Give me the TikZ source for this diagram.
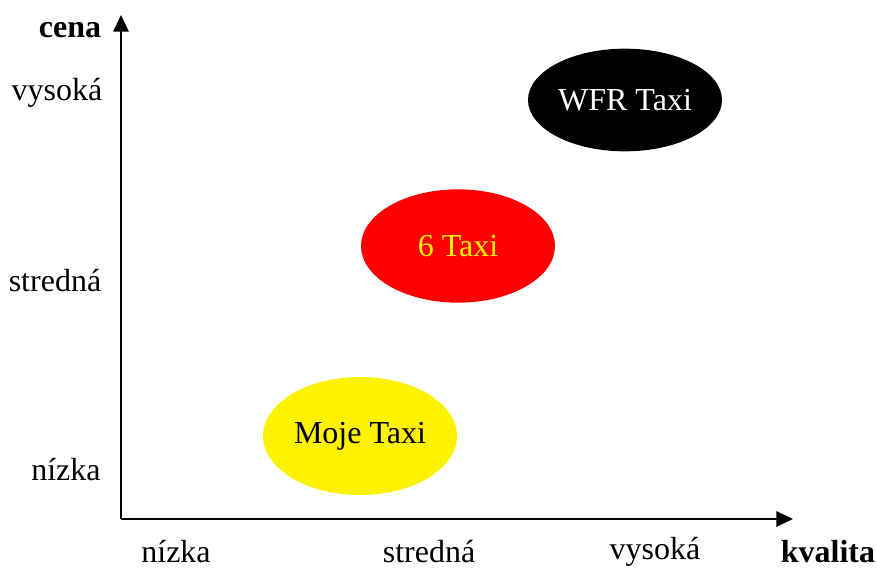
\documentclass[tikz,border=0pt]{standalone}
\usepackage{fontspec}
\setmainfont{Liberation Serif}
\usetikzlibrary{arrows.meta, shapes.geometric}

\begin{document}
\begin{tikzpicture}[x=0.75pt, y=-0.75pt, >={Triangle[length=12.5pt, width=11.5pt]},
    lbl/.style={font=\fontsize{24}{28}\selectfont, inner sep=0pt},
    firm/.style={ellipse, inner sep=0pt, outer sep=0pt, minimum width=145.5pt, font=\fontsize{24}{28}\selectfont}]
    \useasboundingbox (0,0) rectangle (877,570);
    \coordinate (O) at (121,519);
    \coordinate (Y) at (121,15); % top of price axis
    \coordinate (X) at (793,519); % end of quality axis
    
    \draw[->, line width=1.5pt] (O)--(Y);
    \draw[->, line width=1.5pt] (O)--(X);
    
    \node[lbl, font=\fontsize{24}{28}\selectfont\bfseries] (cena) at (70,30) {cena};
    \node[lbl] (yhigh) at (57,93) {vysoká};
    \node[lbl] (ymid) at (55,281) {stredná};
    \node[lbl] (ylow) at (66,470) {nízka};
    
    \node[lbl] (xlow) at (176,552) {nízka};
    \node[lbl] (xmid) at (429,552) {stredná};
    \node[lbl] (xhigh) at (655,552) {vysoká};
    \node[lbl, font=\fontsize{24}{28}\selectfont\bfseries] (kvalita) at (828,552) {kvalita};
    
    % Firms
    \node[firm, fill=black, text=white, minimum height=77pt] (wfr) at (625,100) {WFR Taxi};
    \node[firm, fill=red, text=yellow, minimum height=85pt] (six) at (458,246) {6 Taxi};
    \node[firm, fill=yellow, text=black, minimum height=88.5pt] (moje) at (360,436) {Moje Taxi};
\end{tikzpicture}
\end{document}
